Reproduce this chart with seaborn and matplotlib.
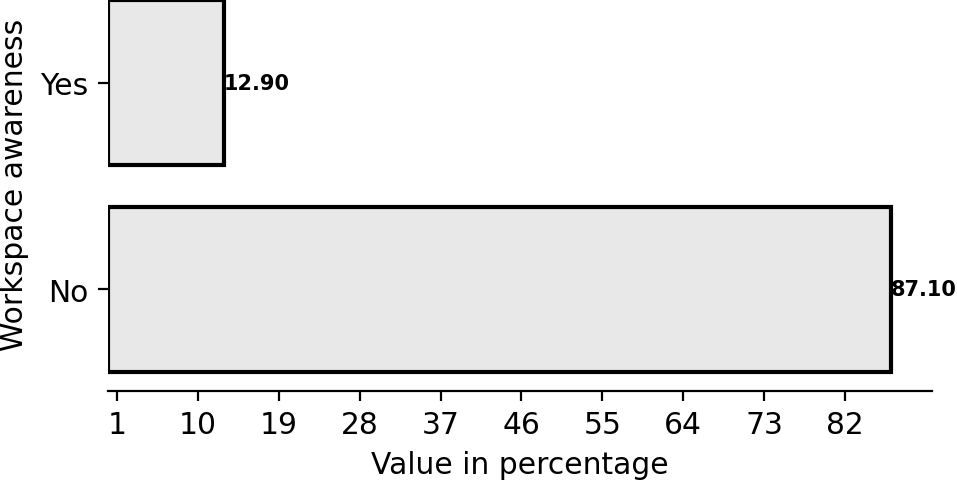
import matplotlib
matplotlib.use("Agg")
import matplotlib.pyplot as plt
import numpy as np
import pandas as pd
import seaborn as sns

# data
categories = ["Yes", "No"]
percentages = [12.90, 87.10]
x_ticks = [1, 10, 19, 28, 37, 46, 55, 64, 73, 82]

df = pd.DataFrame({"awareness": categories, "value": percentages})

plt.rcParams["font.family"] = ["DejaVu Sans"]
plt.rcParams["font.size"] = 10.7

fig = plt.figure(figsize=(9.57 / 2, 4.81 / 2), dpi=200)
ax = fig.add_axes([0.1129, 0.1857, 0.861, 0.860])

sns.barplot(
    data=df,
    x="value",
    y="awareness",
    orient="h",
    color="#e8e8e8",
    saturation=1,
    edgecolor="black",
    linewidth=1.5,
    width=0.8,
    ax=ax,
)

for container in ax.containers:
    ax.bar_label(container, fmt="%.2f", fontsize=7.5, fontweight="bold",
                 padding=0, color="black")

ax.set_xlim(0, 91.7)
ax.set_ylim(1.49, -0.51)
ax.set_xticks(x_ticks)
ax.set_xlabel("Value in percentage", fontsize=10.7, color="black")
ax.set_ylabel("Workspace awareness", fontsize=10.7, color="black")
ax.tick_params(axis="both", labelsize=10.7, colors="black")

for side in ["top", "right", "left"]:
    ax.spines[side].set_visible(False)

fig.savefig("out.png", dpi=200)
